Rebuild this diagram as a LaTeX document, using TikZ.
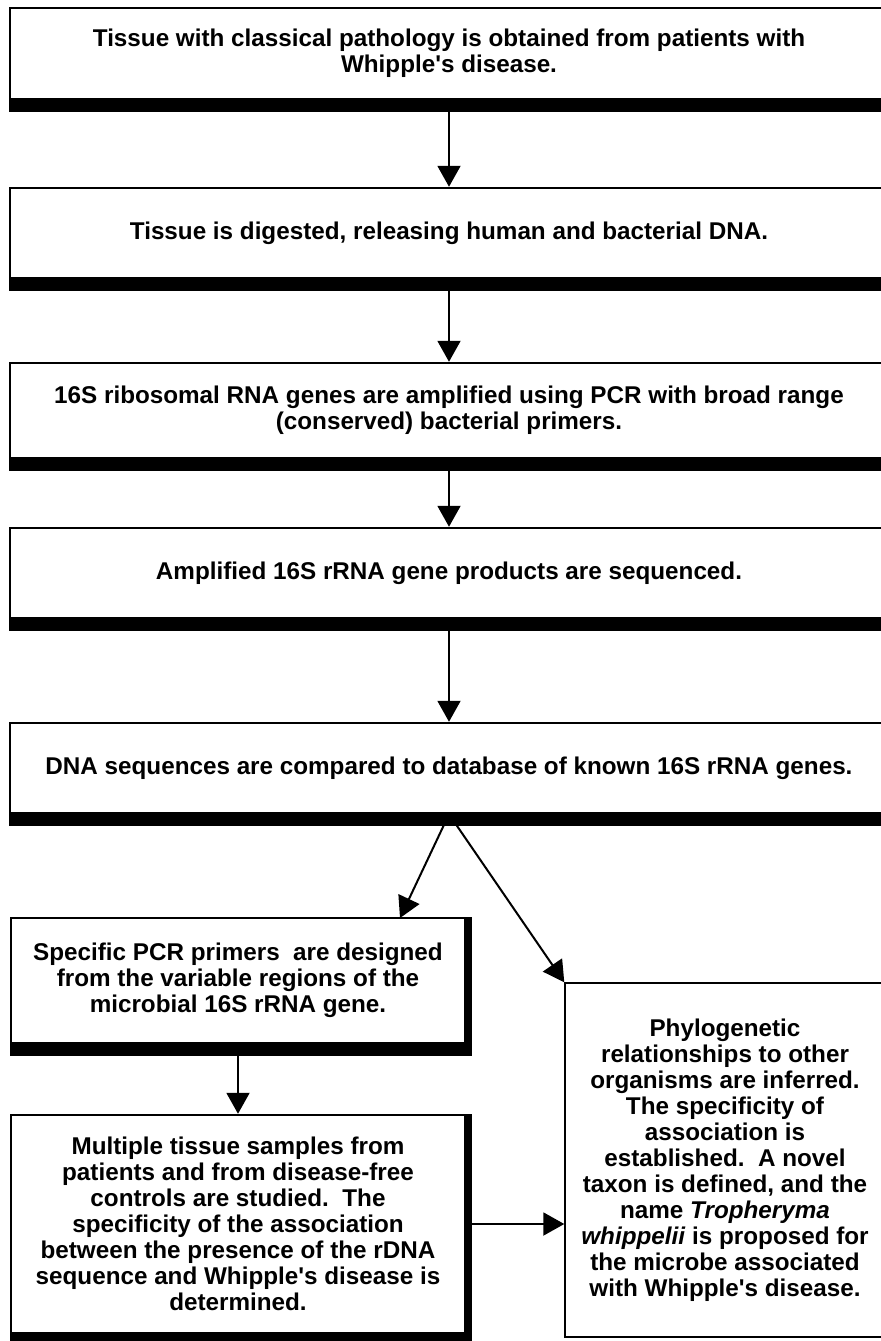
\documentclass[tikz,border=0pt]{standalone}
\usepackage{fontspec}
\setmainfont{Liberation Sans}[Ligatures=TeXOff]
\usetikzlibrary{arrows.meta,positioning}

\tikzset{
  stepbox/.style={draw, line width=0.05cm, align=center, inner sep=0pt,
    font=\bfseries\fontsize{13.8}{14.8}\selectfont},
  wide/.style={stepbox, minimum width=17.56cm, minimum height=1.8cm},
  arr/.style={-{Triangle[length=0.42cm,width=0.46cm]}, line width=0.04cm}
}

\begin{document}
\begin{tikzpicture}[x=0.02cm, y=-0.02cm]
  \useasboundingbox (0,0) rectangle (881,1341);
  \clip (0,0) rectangle (881,1341);

  \node[wide, minimum height=1.82cm] (tissue) at (449,53.5)
    {Tissue with classical pathology is obtained from patients with\\Whipple's disease.};
  \node[wide] (digest) at (449,233)
    {Tissue is digested, releasing human and bacterial DNA.};
  \node[wide, minimum height=1.9cm] (amplify) at (449,410.5)
    {16S ribosomal RNA genes are amplified using PCR with broad range\\(conserved) bacterial primers.};
  \node[wide] (sequence) at (449,573)
    {Amplified 16S rRNA gene products are sequenced.};
  \node[wide] (compare) at (449,768)
    {DNA sequences are compared to database of known 16S rRNA genes.};
  \node[stepbox, minimum width=9.08cm, minimum height=2.5cm] (primers) at (238,980.5)
    {Specific PCR primers\ \ are designed\\from the variable regions of the\\microbial 16S rRNA gene.};
  \node[stepbox, minimum width=9.08cm, minimum height=4.36cm] (samples) at (238,1224)
    {Multiple tissue samples from\\patients and from disease-free\\controls are studied.\ \ The\\specificity of the association\\between the presence of the rDNA\\sequence and Whipple's disease is\\determined.};
  \node[stepbox, line width=0.03cm, minimum width=6.4cm, minimum height=7.08cm] (infer) at (725,1160)
    {Phylogenetic\\relationships to other\\organisms are inferred.\\The specificity of\\association is\\established.\ \ A novel\\taxon is defined, and the\\name \textit{Tropheryma}\\\textit{whippelii} is proposed for\\the microbe associated\\with Whipple's disease.};

  % heavy bottom and right edges
  \foreach \b in {tissue,digest,amplify,sequence,compare,primers,samples} {
    \fill (\b.south west) rectangle ([xshift=0.12cm,yshift=-0.24cm]\b.south east);
    \fill (\b.north east) rectangle ([xshift=0.12cm]\b.south east);
  }

  \coordinate (ptip) at (400,918);

  \draw[arr] (tissue.south) -- (digest.north);
  \draw[arr] (digest.south) -- (amplify.north);
  \draw[arr] (amplify.south) -- (sequence.north);
  \draw[arr] (sequence.south) -- (compare.north);
  \draw[arr] (compare.south) -- (ptip);
  \draw[arr] (compare.south) -- (infer.north west);
  \draw[arr] (primers.south) -- (samples.north);
  \draw[arr] ([xshift=0.12cm]samples.east) -- (infer.west |- samples.east);
\end{tikzpicture}
\end{document}
